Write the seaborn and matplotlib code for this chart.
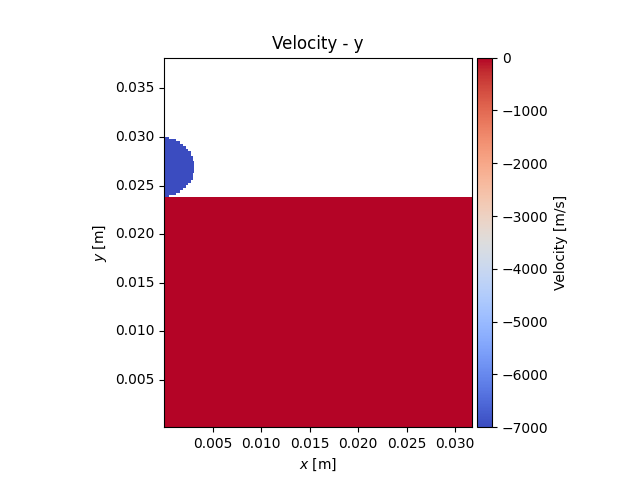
import numpy as np
import matplotlib
matplotlib.use("Agg")
import matplotlib.pyplot as plt
import seaborn as sns

# grid, half cells so the steps of the edge can be kept
n_cols = 254
n_rows = 304
cell_size = 0.000125
y_max = 0.03815

# droplet: filled half cells from the left edge, top row first, each row 2 grid rows high
droplet_top_row = 65
droplet_widths = [4, 10, 13, 16, 18, 20, 22, 22, 24, 24, 25, 25, 25,
                  25, 25, 24, 24, 24, 22, 20, 18, 16, 13, 10, 4, 4]
droplet_velocity = -7000

pool_top_row = 115
pool_velocity = 0

x_ticks = [0.005, 0.010, 0.015, 0.020, 0.025, 0.030]
y_ticks = [0.005, 0.010, 0.015, 0.020, 0.025, 0.030, 0.035]

grid = np.full((n_rows, n_cols), np.nan)
for i, w in enumerate(droplet_widths):
    grid[droplet_top_row + 2 * i:droplet_top_row + 2 * i + 2, :w] = droplet_velocity
grid[pool_top_row:, :] = pool_velocity

fig = plt.figure(figsize=(6.4, 4.8), dpi=100)
ax = fig.add_axes([164 / 640, 52.8 / 480, 308 / 640, 369.6 / 480])
cax = fig.add_axes([477 / 640, 52.8 / 480, 15 / 640, 369.6 / 480])

sns.heatmap(grid, ax=ax, cbar_ax=cax, cmap="coolwarm", vmin=-7000, vmax=0,
            cbar_kws={"label": "Velocity [m/s]"})

# heatmap axes run in cell numbers, so convert the tick values
ax.set_xticks([v / cell_size for v in x_ticks])
ax.set_xticklabels([f"{v:.3f}" for v in x_ticks], rotation=0)
ax.set_yticks([(y_max - v) / cell_size for v in y_ticks])
ax.set_yticklabels([f"{v:.3f}" for v in y_ticks], rotation=0)
for spine in ax.spines.values():
    spine.set_visible(True)
    spine.set_linewidth(0.8)

cbar = ax.collections[0].colorbar
cbar.outline.set_visible(True)
cbar.outline.set_linewidth(0.8)
cbar.outline.set_edgecolor("black")

ax.set_xlabel("$x$ [m]")
ax.set_ylabel("$y$ [m]")
ax.set_title("Velocity - y")

plt.savefig("out.png", dpi=100)
plt.close()
